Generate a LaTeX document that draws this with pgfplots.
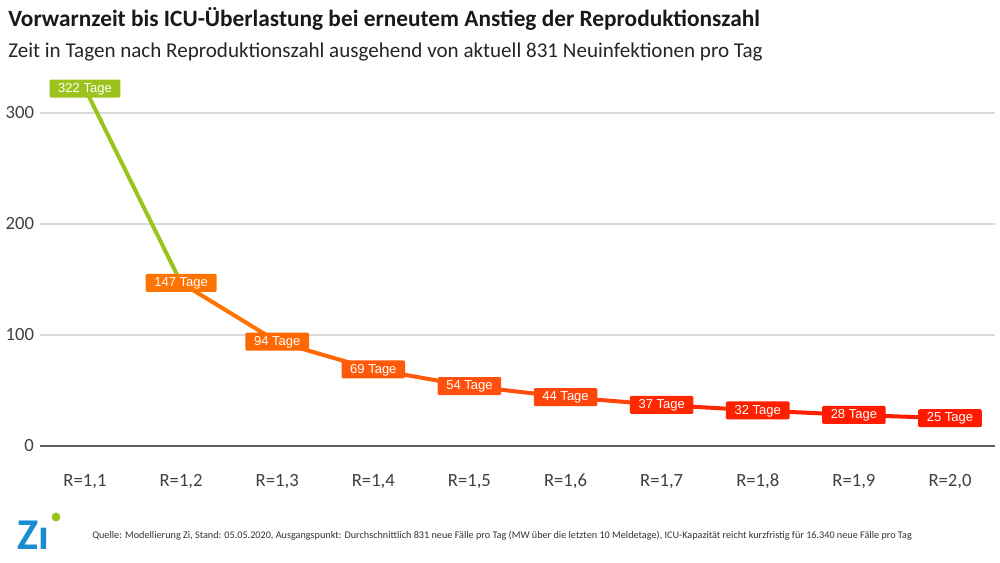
\documentclass[border=0pt]{standalone}
\usepackage{fontspec}
\setmainfont{Carlito}
\newfontfamily\arial{Liberation Sans}
\usepackage{pgfplots}
\pgfplotsset{compat=1.18}

\definecolor{cgreen}{HTML}{9BC31B}
\definecolor{corA}{HTML}{FF7300}
\definecolor{corB}{HTML}{FF6800}
\definecolor{corC}{HTML}{FF5A0A}
\definecolor{corD}{HTML}{FF500D}
\definecolor{corE}{HTML}{FF450A}
\definecolor{credA}{HTML}{FF2800}
\definecolor{credB}{HTML}{FF2000}
\definecolor{credC}{HTML}{FF1C00}
\definecolor{credD}{HTML}{FF1A00}
\definecolor{ziblue}{HTML}{1A8DD0}
\definecolor{gridgray}{HTML}{D9D9D9}
\definecolor{txtgray}{HTML}{404040}

% one line segment between two neighbouring points
\newcommand{\seg}[5]{\addplot[#5, line width=3pt] coordinates {(#1,#2) (#3,#4)};}
% value label box on one point
\newcommand{\lab}[3]{\addplot[draw=none, mark=none,
    nodes near coords={\pgfmathprintnumber{\pgfplotspointmeta} Tage},
    nodes near coords style={fill=#3, text=white, anchor=center,
      font=\arial\fontsize{9.75}{9.75}\selectfont, inner xsep=6.5pt,
      text height=7pt, text depth=1.5pt, inner ysep=2.5pt,
      rounded corners=1pt}]
    coordinates {(#1,#2)};}

\begin{document}
\begin{tikzpicture}
\useasboundingbox (0,0) rectangle (750pt,422.25pt);
\fill[white] (0,0) rectangle (750pt,422.25pt);
\begin{axis}[
    at={(30pt,87.75pt)}, anchor=south west,
    scale only axis, width=716.25pt, height=283.05pt,
    xmin=-0.468, xmax=9.468, ymin=0, ymax=340,
    axis x line*=bottom, axis y line*=left,
    y axis line style={draw=none},
    x axis line style={draw=gray!75!black, line width=1.5pt},
    xtick={0,...,9},
    xticklabels={{R=1,1},{R=1,2},{R=1,3},{R=1,4},{R=1,5},{R=1,6},{R=1,7},{R=1,8},{R=1,9},{R=2,0}},
    ytick={0,100,200,300},
    major tick length=0pt,
    ymajorgrids, grid style={gridgray, line width=1pt},
    tick label style={font=\fontsize{14}{14}\selectfont, text=txtgray},
    xticklabel style={anchor=base, yshift=-30.5pt},
    yticklabel style={xshift=-1pt},
    /pgf/number format/assume math mode=true,
    clip=false,
  ]
  \seg{0}{322}{1}{147}{cgreen}
  \seg{1}{147}{2}{94}{corA}
  \seg{2}{94}{3}{69}{corB}
  \seg{3}{69}{4}{54}{corC}
  \seg{4}{54}{5}{44}{corD}
  \seg{5}{44}{6}{37}{corE}
  \seg{6}{37}{7}{32}{credA}
  \seg{7}{32}{8}{28}{credB}
  \seg{8}{28}{9}{25}{credC}

  \lab{0}{322}{cgreen}
  \lab{1}{147}{corA}
  \lab{2}{94}{corB}
  \lab{3}{69}{corC}
  \lab{4}{54}{corD}
  \lab{5}{44}{corE}
  \lab{6}{37}{credA}
  \lab{7}{32}{credB}
  \lab{8}{28}{credC}
  \lab{9}{25}{credD}
\end{axis}

\node[anchor=base west, inner sep=0pt, text=black!90, font=\bfseries\fontsize{17.5}{17.5}\selectfont]
  at (6pt,402pt) {Vorwarnzeit bis ICU-Überlastung bei erneutem Anstieg der Reproduktionszahl};
\node[anchor=base west, inner sep=0pt, text=black!85, font=\fontsize{15.8}{15.8}\selectfont]
  at (6pt,378.75pt) {Zeit in Tagen nach Reproduktionszahl ausgehend von aktuell 831 Neuinfektionen pro Tag};

\node[anchor=base west, inner sep=0pt, text=ziblue, font=\bfseries\fontsize{33}{33}\selectfont]
  at (13pt,9.75pt) {Zı};
\fill[cgreen] (42pt,34.5pt) circle (3.3pt);

\node[anchor=base west, inner sep=0pt, text=black!80, font=\fontsize{7.65}{7.65}\selectfont]
  at (69pt,18.5pt) {Quelle: Modellierung Zi, Stand: 05.05.2020, Ausgangspunkt: Durchschnittlich 831 neue Fälle pro Tag (MW über die letzten 10 Meldetage), ICU-Kapazität reicht kurzfristig für 16.340 neue Fälle pro Tag};
\end{tikzpicture}
\end{document}
